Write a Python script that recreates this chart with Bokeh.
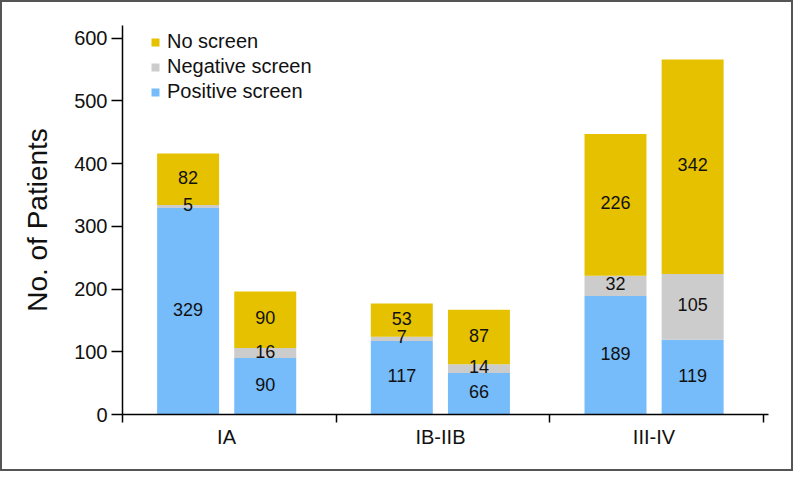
import numpy as np
from bokeh.plotting import figure
from bokeh.models import ColumnDataSource, FixedTicker, Legend, LegendItem, Range1d
from bokeh.core.properties import value
from bokeh.embed import file_html
from bokeh.resources import INLINE

# ---- data ----
stages = ["IA", "IB-IIB", "III-IV"]
positive_screen = [329, 90, 117, 66, 189, 119]
negative_screen = [5, 16, 7, 14, 32, 105]
no_screen = [82, 90, 53, 87, 226, 342]
y_ticks = [0, 100, 200, 300, 400, 500, 600]
series_names = ["Positive screen", "Negative screen", "No screen"]
colors = ["#76BCFB", "#CCCCCC", "#E5C100"]

# ---- layout helpers ----
bar_offsets = [-0.193, 0.168]
bar_width = 0.29
FONT = "Liberation Sans"

xs = []
for i in range(len(stages)):
    for off in bar_offsets:
        xs.append(i + 0.5 + off)

src = ColumnDataSource(dict(x=xs, pos=positive_screen, neg=negative_screen, no=no_screen))

p = figure(width=793, height=471, output_backend="svg", toolbar_location=None,
           x_range=Range1d(0, 3.023), y_range=Range1d(0, 620),
           min_border_left=120, min_border_right=27, min_border_top=23, min_border_bottom=59)
p.styles = {"border": "2px solid #555555", "box-sizing": "border-box"}

rs = p.vbar_stack(["pos", "neg", "no"], x="x", width=bar_width, source=src,
                  color=colors, line_color=None)

# value labels
vals = np.array([positive_screen, negative_screen, no_screen], dtype=float)
tops = np.cumsum(vals, axis=0)
mids = tops - vals / 2
lx, ly, lt = [], [], []
for s in range(3):
    for b in range(len(xs)):
        lx.append(xs[b]); ly.append(mids[s, b]); lt.append(str(int(vals[s, b])))
p.text(x=lx, y=ly, text=lt, text_align="center", text_baseline="middle",
       text_font=value(FONT), text_font_size="18px", text_color="#111111", y_offset=-2)

# legend
legend = Legend(items=[LegendItem(label=series_names[2], renderers=[rs[2]]),
                       LegendItem(label=series_names[1], renderers=[rs[1]]),
                       LegendItem(label=series_names[0], renderers=[rs[0]])],
                location=(28, 310), border_line_color=None, background_fill_alpha=0,
                padding=0, margin=0, spacing=0, glyph_width=10, glyph_height=10,
                label_height=25, label_standoff=7,
                label_text_font=FONT, label_text_font_size="20px", label_text_color="#111111")
p.add_layout(legend)

# axes
group_centers = [round(i + 0.5 + sum(bar_offsets) / 2, 3) for i in range(len(stages))]
p.xaxis.ticker = FixedTicker(ticks=group_centers, minor_ticks=[0, 1, 2, 3])
p.xaxis.major_label_overrides = {c: s for c, s in zip(group_centers, stages)}
p.xaxis.major_tick_out = 0
p.xaxis.major_tick_in = 0
p.xaxis.minor_tick_out = 8
p.xaxis.minor_tick_in = 0
p.xaxis.minor_tick_line_width = 1.5
p.xaxis.minor_tick_line_color = "black"
p.xaxis.major_label_standoff = 3

p.yaxis.ticker = FixedTicker(ticks=y_ticks, minor_ticks=[])
p.yaxis.major_tick_out = 11
p.yaxis.major_tick_in = 0
p.yaxis.major_label_standoff = 4
p.yaxis.axis_label = "No. of Patients"
p.yaxis.axis_label_standoff = 18
p.yaxis.axis_label_text_font = FONT
p.yaxis.axis_label_text_font_size = "28px"
p.yaxis.axis_label_text_font_style = "normal"
p.yaxis.axis_label_text_color = "#111111"

for ax in (p.xaxis, p.yaxis):
    ax.axis_line_width = 1.5
    ax.axis_line_color = "black"
    ax.major_tick_line_width = 1.5
    ax.major_tick_line_color = "black"
    ax.major_label_text_font = FONT
    ax.major_label_text_font_size = "20px"
    ax.major_label_text_color = "#111111"

p.xgrid.visible = False
p.ygrid.visible = False
p.outline_line_color = None

open("out.html", "w").write(file_html(p, INLINE))
